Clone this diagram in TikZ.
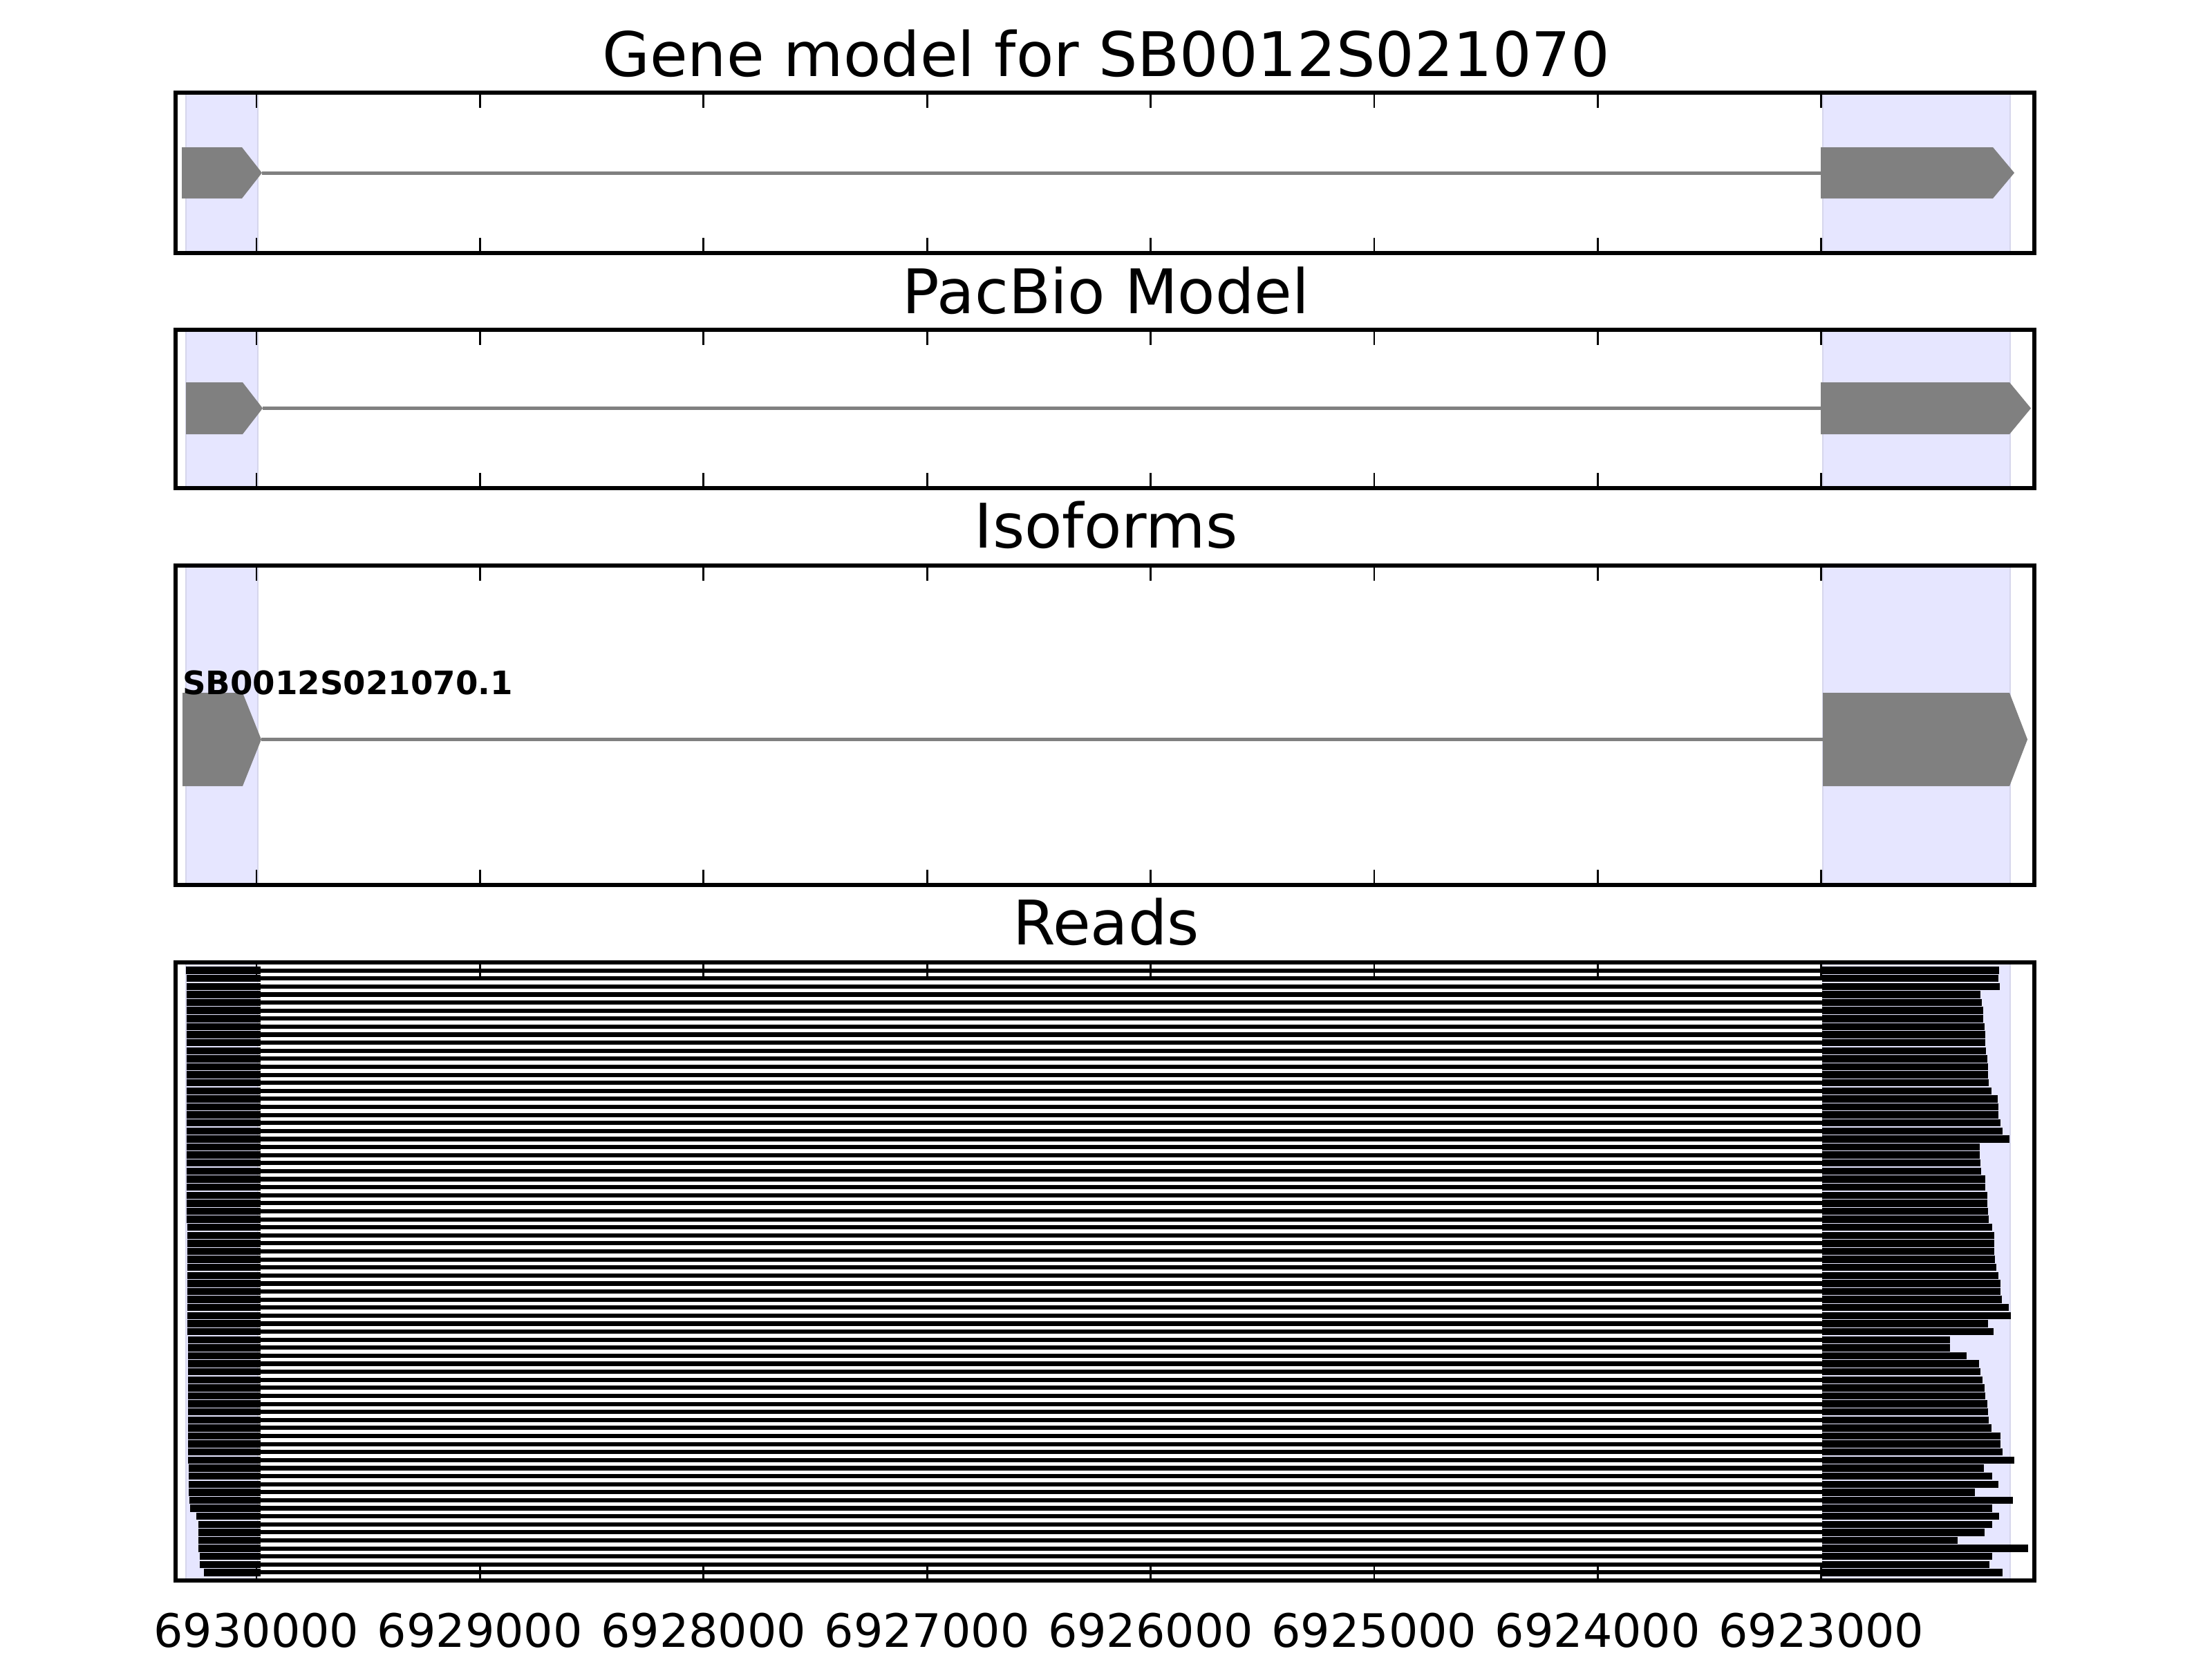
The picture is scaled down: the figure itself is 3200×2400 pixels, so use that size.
\documentclass[tikz,border=0pt]{standalone}
\usepackage{fontspec}
\setmainfont{DejaVu Sans}
\usepackage{xcolor}
\definecolor{spanfill}{RGB}{230, 230, 255}
\definecolor{spanedge}{RGB}{214, 214, 236}
\definecolor{exongray}{RGB}{128, 128, 128}
\usepackage{tikz}

\begin{document}
\begin{tikzpicture}[
    x=0.18pt, y=-0.18pt,
    spanbox/.style={fill=spanfill, draw=spanedge, line width=0.5pt},
    axframe/.style={draw=black, line width=1pt},
    tickmark/.style={draw=black, line width=0.5pt},
    modelexon/.style={fill=exongray},
    modelintron/.style={draw=exongray, line width=0.9pt},
    readexon/.style={fill=black},
    readintron/.style={draw=black, line width=1.1pt},
    paneltitle/.style={anchor=base, inner sep=0pt, font=\fontsize{16}{19}\selectfont},
    ticklabel/.style={anchor=base, inner sep=0pt, font=\fontsize{12}{14}\selectfont},
    isolabel/.style={anchor=base west, inner sep=0pt, font=\fontsize{8.4}{10}\selectfont\bfseries}
]
\fill[white] (0,0) rectangle (3200,2400);
\useasboundingbox (0,0) rectangle (3200,2400);

% ==================== EXON SPANS ====================
\foreach \ptop/\pbot in {134/366, 477/706, 818/1280, 1392/2286} {
    \draw[spanbox] (269,\ptop) rectangle (373,\pbot);
    \draw[spanbox] (2637,\ptop) rectangle (2908,\pbot);
}

% ==================== GENE MODEL ====================
\draw[modelintron] (379,250) -- (2634,250);
\fill[modelexon] (263,213) -- (350,213) -- (379,250) -- (350,287) -- (263,287) -- cycle;
\fill[modelexon] (2634,213) -- (2883,213) -- (2914,250) -- (2883,287) -- (2634,287) -- cycle;

% ==================== PACBIO MODEL ====================
\draw[modelintron] (380,590.5) -- (2634,590.5);
\fill[modelexon] (269,553) -- (351,553) -- (380,590.5) -- (351,628) -- (269,628) -- cycle;
\fill[modelexon] (2634,553) -- (2907,553) -- (2938,590.5) -- (2907,628) -- (2634,628) -- cycle;

% ==================== ISOFORMS ====================
\draw[modelintron] (378,1069.5) -- (2637,1069.5);
\fill[modelexon] (264,1002) -- (351,1002) -- (378,1069.5) -- (351,1137) -- (264,1137) -- cycle;
\fill[modelexon] (2637,1002) -- (2907,1002) -- (2933,1069.5) -- (2907,1137) -- (2637,1137) -- cycle;
\node[isolabel] (iso_name) at (263,1004) {SB0012S021070.1};

% ==================== READS ====================
\foreach \s/\e [count=\k] in {
    269/2892, 270/2891, 270/2893, 270/2865, 270/2867, 270/2869, 270/2869, 270/2871,
    270/2872, 270/2872, 270/2873, 270/2875, 270/2876, 270/2876, 270/2877, 270/2881,
    270/2890, 270/2891, 270/2891, 270/2894, 270/2897, 270/2907, 270/2864, 270/2864,
    270/2865, 270/2866, 270/2872, 270/2872, 270/2875, 270/2875, 270/2876, 270/2877,
    271/2882, 271/2885, 271/2885, 271/2885, 271/2886, 271/2888, 271/2891, 271/2894,
    271/2894, 271/2896, 271/2906, 271/2909, 271/2876, 271/2884, 272/2821, 272/2821,
    272/2845, 272/2863, 272/2865, 272/2868, 272/2871, 272/2872, 272/2875, 272/2876,
    272/2877, 272/2881, 272/2894, 272/2894, 272/2897, 272/2914, 273/2870, 273/2882,
    273/2891, 273/2857, 274/2912, 275/2882, 284/2892, 287/2882, 287/2871, 287/2832,
    287/2934, 289/2882, 289/2878, 295/2897} {
    \pgfmathsetmacro{\yc}{1392+\k*11.61}
    \draw[readintron] (377,\yc) -- (2636,\yc);
    \fill[readexon] (\s,\yc-5.2) rectangle (377,\yc+5.2);
    \fill[readexon] (2636,\yc-5.2) rectangle (\e,\yc+5.2);
}

% ==================== AXES ====================
\foreach \ptop/\pbot in {134/366, 477/706, 818/1280, 1392/2286} {
    \foreach \i in {0,...,7} {
        \draw[tickmark] (371+\i*323.4,\ptop) -- ++(0,22);
        \draw[tickmark] (371+\i*323.4,\pbot) -- ++(0,-22);
    }
    \draw[axframe] (254,\ptop) rectangle (2943,\pbot);
}

\foreach \v [count=\i from 0] in {6930000, 6929000, 6928000, 6927000, 6926000, 6925000, 6924000, 6923000}
    \node[ticklabel] (tick_\i) at (371+\i*323.4,2382) {\v};

% ==================== TITLES ====================
\node[paneltitle] (title_gene) at (1600,110) {Gene model for SB0012S021070};
\node[paneltitle] (title_pacbio) at (1600,453) {PacBio Model};
\node[paneltitle] (title_iso) at (1600,792) {Isoforms};
\node[paneltitle] (title_reads) at (1600,1366) {Reads};

\end{tikzpicture}
\end{document}
